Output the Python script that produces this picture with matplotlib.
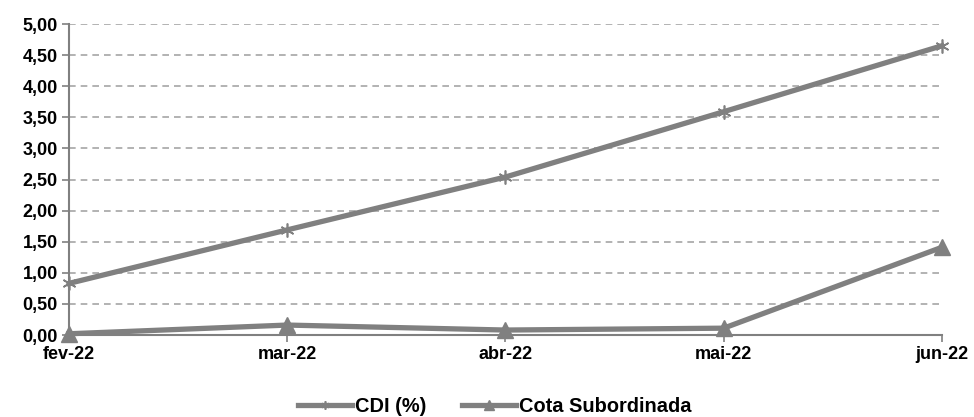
import matplotlib.pyplot as plt
import numpy as np

plt.rcParams['font.family'] = ['Liberation Sans', 'DejaVu Sans']
plt.rcParams['font.weight'] = 'bold'

meses = ['fev-22', 'mar-22', 'abr-22', 'mai-22', 'jun-22']
cdi = [0.83, 1.69, 2.54, 3.59, 4.65]
cota_sub = [0.02, 0.16, 0.08, 0.11, 1.41]

cinza = '#808080'

fig = plt.figure(figsize=(9.74, 4.17), dpi=100)
ax = fig.add_axes([0.0708, 0.1966, 0.8962, 0.7458])

x = np.arange(len(meses))
ax.plot(x, cdi, color=cinza, lw=3.8, marker=(6, 2, 0), ms=10, mew=1.2,
        mec=cinza, label='CDI (%)', clip_on=False, zorder=3)
ax.plot(x, cota_sub, color=cinza, lw=3.8, marker='^', ms=12,
        mec=cinza, mfc=cinza, label='Cota Subordinada', clip_on=False, zorder=3)

ax.set_xlim(0, len(meses) - 1)
ax.set_ylim(0, 5)
ax.set_yticks(np.arange(0, 5.01, 0.5))
ax.set_yticklabels([('%.2f' % v).replace('.', ',') for v in np.arange(0, 5.01, 0.5)])
ax.set_xticks(x)
ax.set_xticklabels(meses)

ax.grid(axis='y', color='#a6a6a6', ls=(0, (4, 3)), lw=1.2)
ax.set_axisbelow(True)
for s in ['top', 'right']:
    ax.spines[s].set_visible(False)
for s in ['left', 'bottom']:
    ax.spines[s].set_color(cinza)
    ax.spines[s].set_linewidth(1.5)
ax.tick_params(axis='both', colors=cinza, labelcolor='black', labelsize=13, length=5, width=1.2)
ax.tick_params(axis='x', pad=3)
ax.tick_params(axis='y', pad=3)

leg = fig.legend(loc='lower center', bbox_to_anchor=(0.508, -0.04), ncol=2, frameon=False,
                 handlelength=2.7, fontsize=14.4, columnspacing=1.8, handletextpad=0.15,
                 markerscale=0.6)

fig.savefig('out.png', dpi=100)
